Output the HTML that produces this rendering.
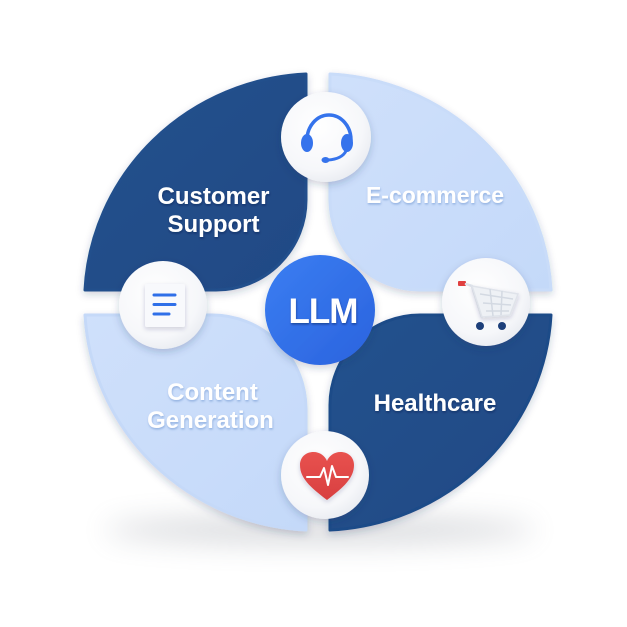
<!DOCTYPE html>
<html><head><meta charset="utf-8"><style>
html,body{margin:0;padding:0;background:#fff;}
svg{display:block;}
text{font-family:"Liberation Sans",Arial,sans-serif;font-weight:bold;}
</style></head><body>
<svg width="627" height="627" viewBox="0 0 627 627" xmlns="http://www.w3.org/2000/svg">
<defs>
<filter id="ground" x="-50%" y="-300%" width="200%" height="700%"><feGaussianBlur stdDeviation="14"/></filter>
<filter id="sh" x="-30%" y="-30%" width="160%" height="160%"><feDropShadow dx="0" dy="3" stdDeviation="4" flood-color="#1a2f5a" flood-opacity="0.22"/></filter>
<filter id="shs" x="-30%" y="-30%" width="160%" height="160%"><feDropShadow dx="0" dy="2" stdDeviation="2.5" flood-color="#1a2f5a" flood-opacity="0.2"/></filter>
<filter id="tsd" x="-20%" y="-50%" width="140%" height="200%"><feDropShadow dx="0.5" dy="1.5" stdDeviation="1" flood-color="#0b1f45" flood-opacity="0.45"/></filter>
<filter id="tsl" x="-20%" y="-50%" width="140%" height="200%"><feDropShadow dx="0.5" dy="1.5" stdDeviation="1" flood-color="#5f88c8" flood-opacity="0.55"/></filter>
<linearGradient id="dark" x1="0" y1="0" x2="1" y2="1"><stop offset="0" stop-color="#24528d"/><stop offset="1" stop-color="#1f4985"/></linearGradient>
<linearGradient id="light" x1="0" y1="0" x2="1" y2="1"><stop offset="0" stop-color="#cfe0fb"/><stop offset="1" stop-color="#c4d9f9"/></linearGradient>
<linearGradient id="llm" x1="0" y1="0" x2="1" y2="1"><stop offset="0" stop-color="#3b7ef2"/><stop offset="1" stop-color="#2a63de"/></linearGradient>
<radialGradient id="wc" cx="0.42" cy="0.38" r="0.7"><stop offset="0" stop-color="#ffffff"/><stop offset="0.7" stop-color="#f6f7fa"/><stop offset="1" stop-color="#e6e9ef"/></radialGradient>
<linearGradient id="heart" x1="0" y1="0" x2="0" y2="1"><stop offset="0" stop-color="#e8524f"/><stop offset="1" stop-color="#d83f40"/></linearGradient>
</defs>

<!-- ground shadow -->
<ellipse cx="320" cy="530" rx="215" ry="14" fill="#8a8f99" opacity="0.32" filter="url(#ground)"/>

<!-- petals -->
<path d="M306,74 L306,200 A90,90 0 0 1 216,290 L85,290 A233,228 0 0 1 306,74 Z" fill="url(#dark)" stroke="#22508c" stroke-width="3" stroke-linejoin="round" filter="url(#sh)"/>
<path d="M330,74 A233,228 0 0 1 551,290 L420,290 A90,90 0 0 1 330,200 Z" fill="url(#light)" stroke="#c9dcf9" stroke-width="3" stroke-linejoin="round" filter="url(#sh)"/>
<path d="M551,315 A233,228 0 0 1 330,530 L330,405 A90,90 0 0 1 420,315 Z" fill="url(#dark)" stroke="#1f4b88" stroke-width="3" stroke-linejoin="round" filter="url(#sh)"/>
<path d="M306,530 A233,228 0 0 1 85,315 L212,315 A94,94 0 0 1 306,409 Z" fill="url(#light)" stroke="#c5d9f8" stroke-width="3" stroke-linejoin="round" filter="url(#sh)"/>

<!-- labels -->
<g fill="#ffffff" text-anchor="middle" font-size="24">
<text x="213.5" y="204" filter="url(#tsd)">Customer</text>
<text x="213.5" y="232" filter="url(#tsd)">Support</text>
<text x="435" y="203" font-size="23" filter="url(#tsl)">E-commerce</text>
<text x="435" y="411" filter="url(#tsd)">Healthcare</text>
<text x="212.5" y="400" filter="url(#tsl)">Content</text>
<text x="210.5" y="428" filter="url(#tsl)">Generation</text>
</g>

<!-- LLM -->
<circle cx="320" cy="310" r="55" fill="url(#llm)" filter="url(#sh)"/>
<text x="323" y="323" fill="#ffffff" font-size="35" text-anchor="middle" letter-spacing="-1" filter="url(#tsd)">LLM</text>

<!-- icon circles -->
<g filter="url(#sh)">
<circle cx="326" cy="137" r="45" fill="url(#wc)"/>
<circle cx="486" cy="302" r="44" fill="url(#wc)"/>
<circle cx="163" cy="305" r="44" fill="url(#wc)"/>
<circle cx="325" cy="475" r="44" fill="url(#wc)"/>
</g>

<!-- headset -->
<g>
<path d="M307,140 A22,25 0 0 1 351,140" fill="none" stroke="#3573ec" stroke-width="3.5" stroke-linecap="round"/>
<ellipse cx="307" cy="143" rx="6" ry="9" fill="#3573ec"/>
<ellipse cx="347" cy="143" rx="6" ry="9" fill="#3573ec"/>
<path d="M346,151 Q342,159 328,160" fill="none" stroke="#3573ec" stroke-width="3" stroke-linecap="round"/>
<ellipse cx="325.5" cy="160" rx="4" ry="3" fill="#3573ec"/>
</g>

<!-- cart -->
<g>
<rect x="458" y="281" width="8" height="5" rx="1" fill="#e04040"/>
<path d="M466,284 L472,286 L482,317" fill="none" stroke="#dde2ea" stroke-width="2.5" stroke-linecap="round"/>
<path d="M472,286 L518,294 L510,315 L482,317 Z" fill="#eef1f5" stroke="#dfe3ea" stroke-width="1.5" filter="url(#shs)"/>
<g stroke="#d3d9e2" stroke-width="1.5">
<line x1="480" y1="294" x2="513" y2="299"/>
<line x1="483" y1="303" x2="511" y2="305"/>
<line x1="486" y1="311" x2="509" y2="311"/>
<line x1="490" y1="289" x2="493" y2="316"/>
<line x1="502" y1="291" x2="501" y2="315"/>
</g>
<circle cx="480" cy="326" r="4" fill="#1d3f7a"/>
<circle cx="502" cy="326" r="4" fill="#1d3f7a"/>
</g>

<!-- document -->
<g>
<rect x="145" y="284" width="40" height="43" rx="2" fill="#f8f9fc" filter="url(#shs)"/>
<g stroke="#2f6fe8" stroke-width="3" stroke-linecap="round">
<line x1="154" y1="295" x2="175" y2="295"/>
<line x1="154" y1="304.5" x2="175" y2="304.5"/>
<line x1="154" y1="314" x2="169" y2="314"/>
</g>
</g>

<!-- heart -->
<g>
<path d="M327,500 C310,487 300,478 300,465 C300,457 306,452 313.5,452 C320,452 325,456 327,461 C329,456 334,452 340.5,452 C348,452 354,457 354,465 C354,478 344,487 327,500 Z" fill="url(#heart)" filter="url(#shs)"/>
<path d="M307,477 L320,477 L324,468 L328,485 L332,466 L336,477 L348,477" fill="none" stroke="#ffffff" stroke-width="2" stroke-linejoin="round" stroke-linecap="round"/>
</g>
</svg>
</body></html>
